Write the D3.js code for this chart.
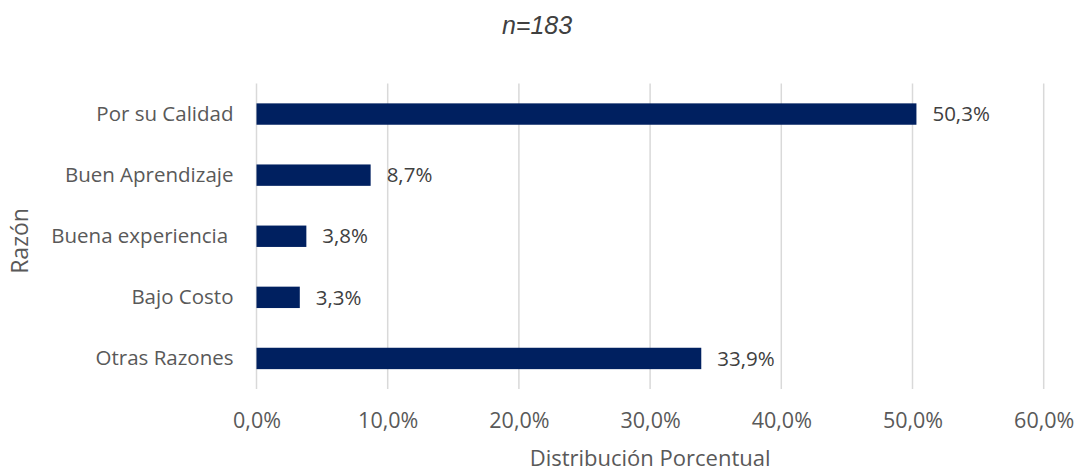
<!DOCTYPE html>
<html>
<head>
<meta charset="utf-8">
<script src="https://cdn.jsdelivr.net/npm/d3@7"></script>
<style>
  html, body { margin: 0; padding: 0; background: #fff; }
  svg { display: block; }
</style>
</head>
<body>
<svg id="chart" width="1079" height="471"></svg>
<script>
// Reasons for choosing, share of respondents (%)
const categories = ["Por su Calidad", "Buen Aprendizaje", "Buena experiencia ", "Bajo Costo", "Otras Razones"];
const values = [50.3, 8.7, 3.8, 3.3, 33.9];
const xTicks = [0, 10, 20, 30, 40, 50, 60];
const titleText = "n=183";
const xTitle = "Distribución Porcentual";
const yTitle = "Razón";

const svg = d3.select("#chart");
const width = 1079, height = 471;
const margin = { top: 83.5, left: 256.5, right: width - 1043.7, bottom: height - 389 };

const fmt = v => d3.format(".1f")(v).replace(".", ",") + "%";

const x = d3.scaleLinear().domain([0, 60]).range([margin.left, width - margin.right]);
const y = d3.scaleBand().domain(categories)
  .range([margin.top, height - margin.bottom])
  .paddingInner(0.65).paddingOuter(0.325);

// vertical gridlines
svg.append("g")
  .selectAll("line").data(xTicks).join("line")
  .attr("x1", d => x(d)).attr("x2", d => x(d))
  .attr("y1", margin.top).attr("y2", height - margin.bottom)
  .attr("stroke", "#d9d9d9").attr("stroke-width", 1.5);

// x axis tick labels
const xAxis = d3.axisBottom(x).tickValues(xTicks).tickFormat(fmt).tickSize(0).tickPadding(0);
const gx = svg.append("g").attr("transform", `translate(0, ${height - margin.bottom + 39})`).call(xAxis);
gx.select(".domain").remove();
gx.selectAll("text")
  .attr("dy", "0")
  .attr("font-family", "'Open Sans', sans-serif")
  .attr("font-size", 21.5)
  .attr("fill", "#595959");

// y axis category labels
const yAxis = d3.axisLeft(y).tickSize(0).tickPadding(23);
const gy = svg.append("g").attr("transform", `translate(${margin.left}, 0)`).call(yAxis);
gy.select(".domain").remove();
gy.selectAll("text")
  .style("white-space", "pre")
  .attr("font-family", "'Open Sans', sans-serif")
  .attr("font-size", 20.5)
  .attr("fill", "#595959");

// bars
svg.append("g")
  .selectAll("rect").data(values).join("rect")
  .attr("x", x(0))
  .attr("y", (d, i) => y(categories[i]))
  .attr("width", d => x(d) - x(0))
  .attr("height", y.bandwidth())
  .attr("fill", "#002060");

// value labels
svg.append("g")
  .selectAll("text").data(values).join("text")
  .attr("x", d => x(d) + 16)
  .attr("y", (d, i) => y(categories[i]) + y.bandwidth() / 2)
  .attr("dy", "0.35em")
  .attr("font-family", "'Open Sans', sans-serif")
  .attr("font-size", 20.5)
  .attr("fill", "#404040")
  .text(d => fmt(d));

// title
svg.append("text")
  .attr("x", 537).attr("y", 34)
  .attr("text-anchor", "middle")
  .attr("font-family", "'Liberation Sans', Arial, sans-serif")
  .attr("font-style", "italic")
  .attr("font-size", 25)
  .attr("fill", "#404040")
  .text(titleText);

// axis titles
svg.append("text")
  .attr("x", (x(0) + x(60)) / 2).attr("y", 466)
  .attr("text-anchor", "middle")
  .attr("font-family", "'Open Sans', sans-serif")
  .attr("font-size", 22)
  .attr("fill", "#595959")
  .text(xTitle);

svg.append("text")
  .attr("transform", `translate(20, 241) rotate(-90)`)
  .attr("dy", "0.35em")
  .attr("text-anchor", "middle")
  .attr("font-family", "'Open Sans', sans-serif")
  .attr("font-size", 23)
  .attr("fill", "#595959")
  .text(yTitle);
</script>
</body>
</html>
